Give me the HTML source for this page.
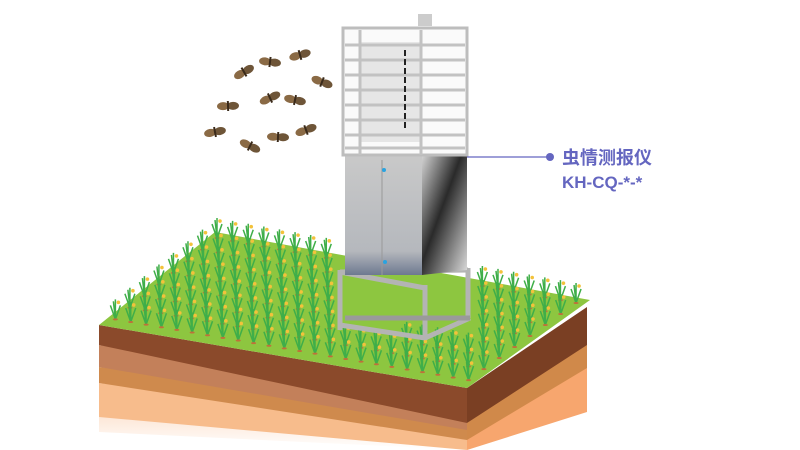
<!DOCTYPE html>
<html><head><meta charset="utf-8"><style>
html,body{margin:0;padding:0;background:#fff;width:800px;height:450px;overflow:hidden}
svg{display:block}
.t{font-family:"Liberation Sans","Noto Sans CJK SC",sans-serif;font-weight:bold;fill:#6466c0}
</style></head><body>
<svg id="s" width="800" height="450" viewBox="0 0 800 450" xmlns="http://www.w3.org/2000/svg">
<defs>
<linearGradient id="side" x1="0" y1="0" x2="1" y2="1">
<stop offset="0" stop-color="#d8d8d8"/><stop offset="0.45" stop-color="#2a2a2a"/><stop offset="1" stop-color="#ddd"/></linearGradient>
<linearGradient id="front" x1="0" y1="0" x2="0" y2="1">
<stop offset="0" stop-color="#c9c9c9"/><stop offset="0.8" stop-color="#b5b8bd"/><stop offset="1" stop-color="#6d7990"/></linearGradient>
<linearGradient id="pale" x1="0" y1="0" x2="0" y2="1">
<stop offset="0" stop-color="#fce2cf"/><stop offset="1" stop-color="#fff"/></linearGradient>
</defs>
<!-- soil layers front -->
<polygon points="99,410 467,450 467,450 99,432" fill="url(#pale)"/>
<polygon points="99,383 467,428 467,450 99,417" fill="#f7bc8c"/>
<polygon points="99,367 467,412 467,440 99,383" fill="#cf8a4d"/>
<polygon points="99,345 467,400 467,430 99,367" fill="#c3805a"/>
<polygon points="99,325 467,388 467,423 99,345" fill="#8b4a2b"/>
<!-- right face -->
<polygon points="467,423 587,330 587,412 467,450" fill="#f7a66e"/>
<polygon points="467,423 587,340 587,368 467,440" fill="#d0894a"/>
<polygon points="467,388 587,307 587,345 467,423" fill="#7a3f23"/>
<!-- top -->
<polygon id="top" points="99,325 215,232 590,300 467,388" fill="#8dc640"/>
<g id="plants"></g>
<!-- device stand -->
<g stroke="#b4b4b4" stroke-width="5" fill="none">
<line x1="340" y1="270" x2="340" y2="330"/><line x1="425" y1="285" x2="425" y2="340"/>
<line x1="468" y1="268" x2="468" y2="318"/><line x1="340" y1="272" x2="468" y2="270"/>
<line x1="340" y1="325" x2="425" y2="338"/><line x1="425" y1="338" x2="470" y2="318"/>
<line x1="345" y1="318" x2="470" y2="318" stroke="#9a9a9a"/>
<line x1="340" y1="272" x2="425" y2="288"/>
</g>
<!-- cabinet -->
<rect x="345" y="155" width="77" height="120" fill="url(#front)"/>
<line x1="382" y1="160" x2="382" y2="275" stroke="#999" stroke-width="1"/>
<polygon points="422,155 467,152 467,270 422,275" fill="url(#side)"/>
<circle cx="384" cy="170" r="2" fill="#29a3e0"/><circle cx="385" cy="262" r="2" fill="#29a3e0"/>
<!-- cage -->
<rect x="343" y="28" width="124" height="127" fill="#fafafa" stroke="#bdbdbd" stroke-width="3"/>
<rect x="360" y="42" width="60" height="100" fill="#e6e6e6"/>
<rect x="418" y="14" width="14" height="12" fill="#ccc"/>
<g stroke="#c2c2c2" stroke-width="3">
<line x1="345" y1="45" x2="465" y2="45"/><line x1="345" y1="60" x2="465" y2="60"/>
<line x1="345" y1="75" x2="465" y2="75"/><line x1="345" y1="90" x2="465" y2="90"/>
<line x1="345" y1="105" x2="465" y2="105"/><line x1="345" y1="120" x2="465" y2="120"/>
<line x1="345" y1="135" x2="465" y2="135"/><line x1="345" y1="148" x2="465" y2="148"/>
<line x1="421" y1="30" x2="421" y2="155"/><line x1="360" y1="30" x2="360" y2="155"/>
</g>
<line x1="405" y1="50" x2="405" y2="130" stroke="#222" stroke-width="2" stroke-dasharray="6,3"/>
<!-- label -->
<line x1="467" y1="157" x2="549" y2="157" stroke="#6466c0" stroke-width="1.2"/>
<circle cx="550" cy="157" r="4" fill="#6466c0"/>
<text class="t" x="562" y="164" font-size="18">虫情测报仪</text>
<text class="t" x="562" y="188" font-size="17">KH-CQ-*-*</text>
<g id="moths"></g>
</svg>
<script>
var ns="http://www.w3.org/2000/svg",P=document.getElementById("plants");
function L(a,b,t){return[a[0]+(b[0]-a[0])*t,a[1]+(b[1]-a[1])*t]}
var A=[215,232],B=[590,300],C=[467,388],D=[99,325];
for(var i=0;i<8;i++)for(var j=0;j<24;j++){var u=(j+0.5)/24,v=(i+0.4)/8;
var p=L(L(A,B,u),L(D,C,u),v);var x=p[0],y=p[1];
if(x>335&&x<475&&y<340&&y>240)continue;
var g=document.createElementNS(ns,"path");
g.setAttribute("d","M"+x+","+y+"l0,-20M"+x+","+y+"l-5,-14M"+x+","+y+"l5,-14M"+x+","+y+"l-2,-18");
g.setAttribute("stroke","#3fae49");g.setAttribute("stroke-width","1.5");g.setAttribute("fill","none");P.appendChild(g);
var e=document.createElementNS(ns,"circle");e.setAttribute("cx",x+3);e.setAttribute("cy",y-17);e.setAttribute("r","1.8");e.setAttribute("fill","#f3c23b");P.appendChild(e);
var f=document.createElementNS(ns,"ellipse");f.setAttribute("cx",x);f.setAttribute("cy",y);f.setAttribute("rx","2.5");f.setAttribute("ry","1");f.setAttribute("fill","#c0703a");P.appendChild(f);}
var M=[[244,72],[270,62],[300,55],[322,82],[228,106],[270,98],[295,100],[215,132],[250,146],[278,137],[306,130]],Mg=document.getElementById("moths");
M.forEach(function(m,k){var r=(k*37%60)-30;var g=document.createElementNS(ns,"g");g.setAttribute("transform","translate("+m[0]+","+m[1]+") rotate("+r+")");
g.innerHTML='<ellipse cx="-5" cy="0" rx="6" ry="4" fill="#8a6a45"/><ellipse cx="5" cy="0" rx="6" ry="4" fill="#6e5538"/><rect x="-1" y="-5" width="2" height="10" fill="#3a2a1a"/>';Mg.appendChild(g);});
</script>
</body></html>
